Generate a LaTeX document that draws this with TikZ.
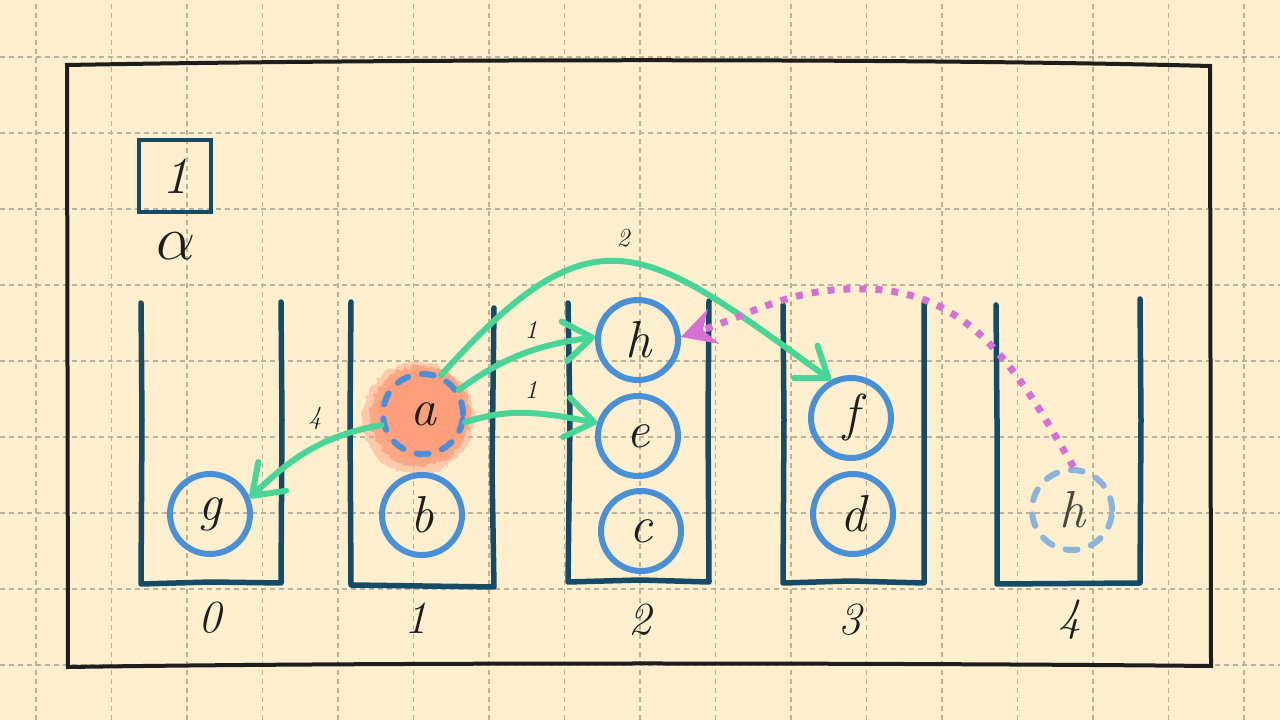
\documentclass[tikz,border=0pt]{standalone}
\usepackage{fontspec}
\usetikzlibrary{arrows.meta,decorations.pathmorphing}
\definecolor{bg}{HTML}{FEEFCF}
\definecolor{gridc}{HTML}{BCB19B}
\definecolor{contc}{HTML}{154B66}
\definecolor{ballc}{HTML}{4A90D9}
\definecolor{lballc}{HTML}{8CB4DA}
\definecolor{grn}{HTML}{48D597}
\definecolor{mag}{HTML}{D670D2}
\definecolor{salm}{HTML}{FF9F7C}
\definecolor{ink}{HTML}{1E1E1E}
\definecolor{gink}{HTML}{4A463E}
\tikzset{
  gridline/.style={draw=gridc, line width=1.2pt, dash pattern=on 5pt off 4pt},
  cont/.style={draw=contc, line width=5.5pt, line join=round, line cap=round},
  ball/.style={circle, draw=ballc, line width=6pt, minimum size=80pt, inner sep=0pt,
    text=ink, font=\fontsize{52}{56}\selectfont\itshape},
  dball/.style={ball, dash pattern=on 12pt off 14pt, line cap=round},
  garrow/.style={draw=grn, line width=6pt, line cap=round,
    -{Straight Barb[length=28pt,width=40pt,round]}},
  marrow/.style={draw=mag, line width=7pt, dash pattern=on 7pt off 9pt,
    -{Stealth[length=34pt,width=36pt,inset=11pt]}},
  lbl/.style={text=ink, font=\fontsize{46}{50}\selectfont\itshape},
  elbl/.style={text=ink, font=\fontsize{26}{30}\selectfont\itshape},
}
\begin{document}
\begin{tikzpicture}[x=1pt,y=1pt]
\useasboundingbox (0,0) rectangle (1280,720);
\fill[bg] (0,0) rectangle (1280,720);
\foreach \k in {0,...,16} \draw[gridline] ({36+75.5*\k},0) -- ({36+75.5*\k},720);
\foreach \k in {0,...,8} \draw[gridline] (0,{55+76*\k}) -- (1280,{55+76*\k});

% outer frame
\draw[ink, line width=4pt, line join=miter]
  (67,655) .. controls (400,661) and (900,662) .. (1210,654)
  -- (1211,54) .. controls (900,57) and (400,58) .. (68,53) -- cycle;

% small box and alpha
\node[draw=contc, line width=4.5pt, minimum size=72pt, inner sep=0pt, lbl,
  font=\fontsize{52}{56}\selectfont\itshape] (box1) at (175,544) {1};
\node[text=ink, font=\fontsize{20}{24}\selectfont, scale=3] (alpha) at (176,474) {$\alpha$};

% containers
\draw[cont] (141,417) -- (142,300) -- (141,136) -- (211,138) -- (281,137) -- (282,300) -- (281,418);
\draw[cont] (351,418) -- (350,300) -- (351,135) -- (494,133) -- (492,250) -- (494,412);
\draw[cont] (568,417) -- (570,300) -- (568,138) -- (640,140) -- (709,138) -- (708,300) -- (709,419);
\draw[cont] (783,415) -- (784,300) -- (783,137) -- (850,139) -- (924,137) -- (924,417);
\draw[cont] (996,415) -- (997,300) -- (997,136) -- (1140,137) -- (1141,300) -- (1140,421);

% bucket labels
\node[lbl] (l0) at (210,102) {0};
\node[lbl] (l1) at (416,102) {1};
\node[lbl] (l2) at (640,100) {2};
\node[lbl] (l3) at (850,100) {3};
\node[lbl] (l4) at (1070,100) {4};

% highlighted blob behind a
\coordinate (ac) at (423,306);
\fill[salm, opacity=0.45, decorate, decoration={random steps,segment length=3pt,amplitude=2pt}]
  ([shift={(-5,-4)}]ac) circle (56);
\fill[salm, opacity=0.8, decorate, decoration={random steps,segment length=3pt,amplitude=2pt}]
  ([shift={(-3,-2)}]ac) circle (50);
\fill[salm] (ac) circle (44);

% balls
\node[ball] (g) at (210,206) {g};
\node[ball] (b) at (422,205) {b};
\node[dball] (a) at (ac) {a};
\node[ball] (h2) at (638,380) {h};
\node[ball] (e) at (638,284) {e};
\node[ball] (c) at (641,189) {c};
\node[ball] (f) at (851,302) {f};
\node[ball] (d) at (853,206) {d};
\node[dball, draw=lballc, text=gink] (h4) at (1072,210) {h};

% green arrows
\draw[garrow] (a.34) to[out=36,in=188] (h2.176);
\draw[garrow] (a.-11) to[out=18,in=170] (e.162);
\draw[garrow] (a.65) .. controls +(48:232) and +(144:232) .. (f.118);
\draw[garrow] (a.195) to[out=190,in=44] (g.22);

% arrow labels
\node[elbl] (w4) at (315,302) {4};
\node[elbl] (w1a) at (531,390) {1};
\node[elbl] (w1b) at (531,330) {1};
\node[elbl] (w2) at (623,482) {2};

% magenta dotted arrow
\coordinate (pk) at (868,431);
\draw[marrow] (h4.88) to[out=120,in=-2] (pk) to[out=178,in=18] (h2.4);
\end{tikzpicture}
\end{document}
